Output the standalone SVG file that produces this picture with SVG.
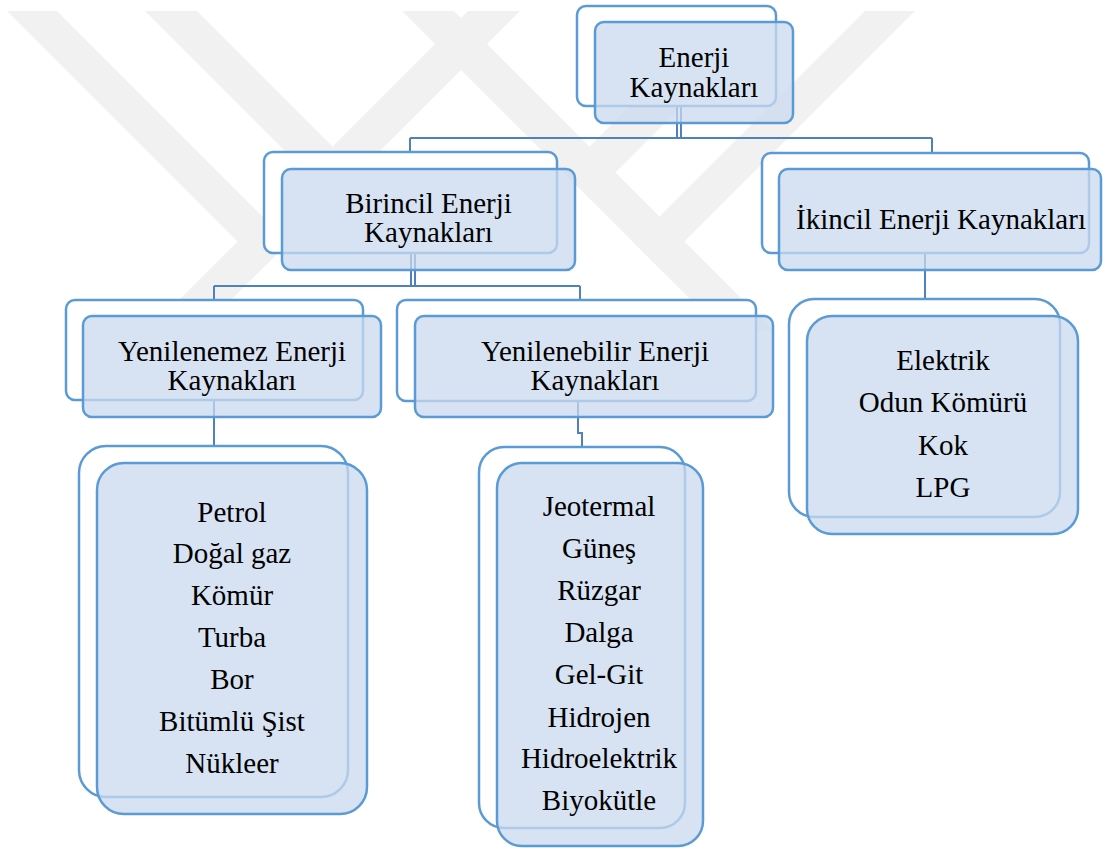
<svg xmlns="http://www.w3.org/2000/svg" width="1103" height="848" viewBox="0 0 1103 848">
<rect width="1103" height="848" fill="#ffffff"/>
<g id="watermark" fill="#f1f1f1">
<polygon points="7,11 57,11 288.5,242.5 263.5,267.5"/>
<polygon points="145,11 197,11 358.5,172.5 332.5,198.5"/>
<polygon points="468,11 520,11 201,330 149,330"/>
<polygon points="915,11 865,11 633.5,242.5 658.5,267.5"/>
<polygon points="777,11 725,11 563.5,172.5 589.5,198.5"/>
<polygon points="454,11 402,11 721,330 773,330"/>
</g>
<g id="connectors" fill="none" stroke="#4f81bd" stroke-width="2">
<path d="M677,106 V138 M681,106 V138 M410,138 H932 M410,138 V152 M932,138 V153"/>
<path d="M411,253 V286 M415,253 V286 M214,286 H580 M214,286 V300 M580,286 V300"/>
<path d="M925,253 V299"/>
<path d="M214,400 V446"/>
<path d="M578,401 V433 H582 V447"/>
</g>
<g id="node-enerji">
<rect x="577" y="6" width="199" height="100" rx="9" fill="#ffffff" stroke="#5b9bd5" stroke-width="2.5"/>
<rect x="595" y="22" width="198" height="101" rx="9" fill="#c9d9ee" fill-opacity="0.75" stroke="#5b9bd5" stroke-width="2.5"/>
<text x="694" y="67" font-family="Liberation Serif" font-size="29" text-anchor="middle">Enerji</text>
<text x="694" y="97" font-family="Liberation Serif" font-size="29" text-anchor="middle">Kaynakları</text>
</g>
<g id="node-birincil">
<rect x="264" y="152" width="293" height="101" rx="9" fill="#ffffff" stroke="#5b9bd5" stroke-width="2.5"/>
<rect x="282" y="169" width="293" height="101" rx="9" fill="#c9d9ee" fill-opacity="0.75" stroke="#5b9bd5" stroke-width="2.5"/>
<text x="428.5" y="213" font-family="Liberation Serif" font-size="29" text-anchor="middle">Birincil Enerji</text>
<text x="428.5" y="242" font-family="Liberation Serif" font-size="29" text-anchor="middle">Kaynakları</text>
</g>
<g id="node-ikincil">
<rect x="762" y="153" width="327" height="100" rx="9" fill="#ffffff" stroke="#5b9bd5" stroke-width="2.5"/>
<rect x="779" y="169" width="322" height="101" rx="9" fill="#c9d9ee" fill-opacity="0.75" stroke="#5b9bd5" stroke-width="2.5"/>
<text x="941" y="229" font-family="Liberation Serif" font-size="29" text-anchor="middle">İkincil Enerji Kaynakları</text>
</g>
<g id="node-yenilenemez">
<rect x="66" y="300" width="297" height="100" rx="9" fill="#ffffff" stroke="#5b9bd5" stroke-width="2.5"/>
<rect x="83" y="316" width="298" height="101" rx="9" fill="#c9d9ee" fill-opacity="0.75" stroke="#5b9bd5" stroke-width="2.5"/>
<text x="232" y="361" font-family="Liberation Serif" font-size="29" text-anchor="middle">Yenilenemez Enerji</text>
<text x="232" y="390" font-family="Liberation Serif" font-size="29" text-anchor="middle">Kaynakları</text>
</g>
<g id="node-yenilenebilir">
<rect x="397" y="300" width="359" height="101" rx="9" fill="#ffffff" stroke="#5b9bd5" stroke-width="2.5"/>
<rect x="415" y="316" width="358" height="101" rx="9" fill="#c9d9ee" fill-opacity="0.75" stroke="#5b9bd5" stroke-width="2.5"/>
<text x="595" y="361" font-family="Liberation Serif" font-size="29" text-anchor="middle">Yenilenebilir Enerji</text>
<text x="595" y="390" font-family="Liberation Serif" font-size="29" text-anchor="middle">Kaynakları</text>
</g>
<g id="node-yenilenemez-list">
<rect x="79" y="446" width="269" height="351" rx="27" fill="#ffffff" stroke="#5b9bd5" stroke-width="2.5"/>
<rect x="97" y="463" width="270" height="351" rx="27" fill="#c9d9ee" fill-opacity="0.75" stroke="#5b9bd5" stroke-width="2.5"/>
<text x="232" y="522" font-family="Liberation Serif" font-size="29" text-anchor="middle">Petrol</text>
<text x="232" y="563" font-family="Liberation Serif" font-size="29" text-anchor="middle">Doğal gaz</text>
<text x="232" y="605" font-family="Liberation Serif" font-size="29" text-anchor="middle">Kömür</text>
<text x="232" y="647" font-family="Liberation Serif" font-size="29" text-anchor="middle">Turba</text>
<text x="232" y="689" font-family="Liberation Serif" font-size="29" text-anchor="middle">Bor</text>
<text x="232" y="731" font-family="Liberation Serif" font-size="29" text-anchor="middle">Bitümlü Şist</text>
<text x="232" y="773" font-family="Liberation Serif" font-size="29" text-anchor="middle">Nükleer</text>
</g>
<g id="node-yenilenebilir-list">
<rect x="479" y="447" width="206" height="381" rx="25" fill="#ffffff" stroke="#5b9bd5" stroke-width="2.5"/>
<rect x="497" y="463" width="206" height="383" rx="25" fill="#c9d9ee" fill-opacity="0.75" stroke="#5b9bd5" stroke-width="2.5"/>
<text x="599" y="516" font-family="Liberation Serif" font-size="29" text-anchor="middle">Jeotermal</text>
<text x="599" y="558" font-family="Liberation Serif" font-size="29" text-anchor="middle">Güneş</text>
<text x="599" y="600" font-family="Liberation Serif" font-size="29" text-anchor="middle">Rüzgar</text>
<text x="599" y="642" font-family="Liberation Serif" font-size="29" text-anchor="middle">Dalga</text>
<text x="599" y="684" font-family="Liberation Serif" font-size="29" text-anchor="middle">Gel-Git</text>
<text x="599" y="727" font-family="Liberation Serif" font-size="29" text-anchor="middle">Hidrojen</text>
<text x="599" y="768" font-family="Liberation Serif" font-size="29" text-anchor="middle">Hidroelektrik</text>
<text x="599" y="810" font-family="Liberation Serif" font-size="29" text-anchor="middle">Biyokütle</text>
</g>
<g id="node-ikincil-list">
<rect x="789" y="299" width="271" height="218" rx="25" fill="#ffffff" stroke="#5b9bd5" stroke-width="2.5"/>
<rect x="807" y="316" width="271" height="218" rx="25" fill="#c9d9ee" fill-opacity="0.75" stroke="#5b9bd5" stroke-width="2.5"/>
<text x="943" y="370" font-family="Liberation Serif" font-size="29" text-anchor="middle">Elektrik</text>
<text x="943" y="412" font-family="Liberation Serif" font-size="29" text-anchor="middle">Odun Kömürü</text>
<text x="943" y="455" font-family="Liberation Serif" font-size="29" text-anchor="middle">Kok</text>
<text x="943" y="497" font-family="Liberation Serif" font-size="29" text-anchor="middle">LPG</text>
</g>
</svg>
